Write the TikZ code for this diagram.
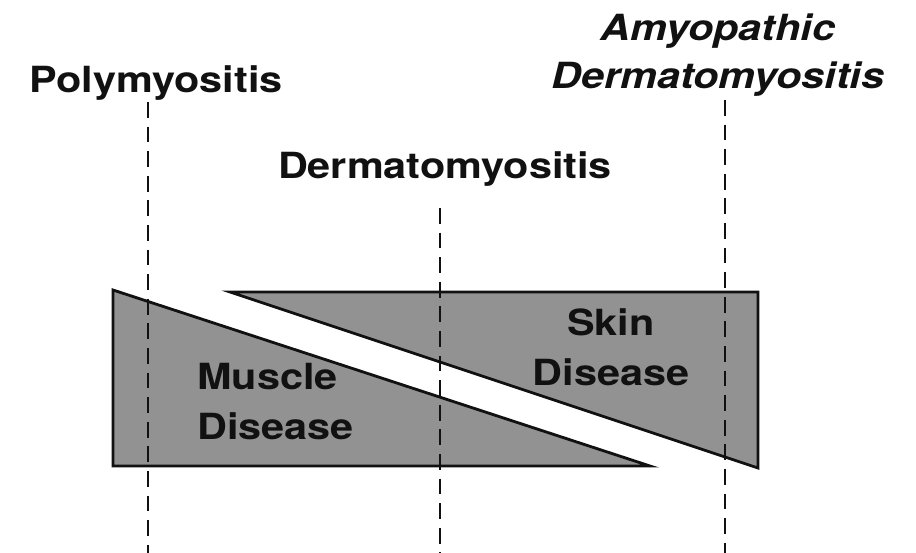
\documentclass[tikz,border=0pt]{standalone}
\usepackage{fontspec}
\usetikzlibrary{calc,positioning}
\newfontfamily\mzfont[FakeStretch=1.15]{TeX Gyre Heros}
\definecolor{mzink}{HTML}{111111}
\definecolor{mzshade}{HTML}{929292}
\tikzset{
  mz text/.style={font=\mzfont\bfseries\fontsize{20.5}{28.5}\selectfont, text=mzink, inner sep=0pt},
  mz wedge/.style={draw=mzink, line width=1.6pt, fill=mzshade, line join=miter},
  mz guide/.style={draw=mzink, line width=0.8pt, dash pattern=on 9pt off 5pt}
}

\begin{document}
\begin{tikzpicture}[mz text, x=0.02cm, y=-0.02cm]
  \useasboundingbox (0,0) rectangle (916,553);
  % the two wedges
  \draw[mz wedge] (113,290) -- (113,466) -- (650,466) -- cycle;
  \draw[mz wedge] (230,292) -- (758,292) -- (758,468) -- cycle;
  \node[anchor=north west, align=left] (muscle) at (197,363) {Muscle\\Disease};
  \node[anchor=north, align=center] (skin) at (611,308) {Skin\\Disease};
  % headings
  \node[anchor=base] (poly) at (156,93) {Polymyositis};
  \node[anchor=base] (derm) at (445,179) {Dermatomyositis};
  \node[anchor=north, align=center, font=\mzfont\bfseries\itshape\fontsize{20.5}{27.5}\selectfont]
    (amyo) at (718,13) {Amyopathic\\Dermatomyositis};
  % guide lines below the headings
  \coordinate (poly top) at (148,102);
  \coordinate (derm top) at (440,208);
  \coordinate (amyo top) at (725,100);
  \foreach \g in {poly,derm,amyo}
    \draw[mz guide] (\g\space top) -- (\g\space top |- 0,553);
\end{tikzpicture}
\end{document}
